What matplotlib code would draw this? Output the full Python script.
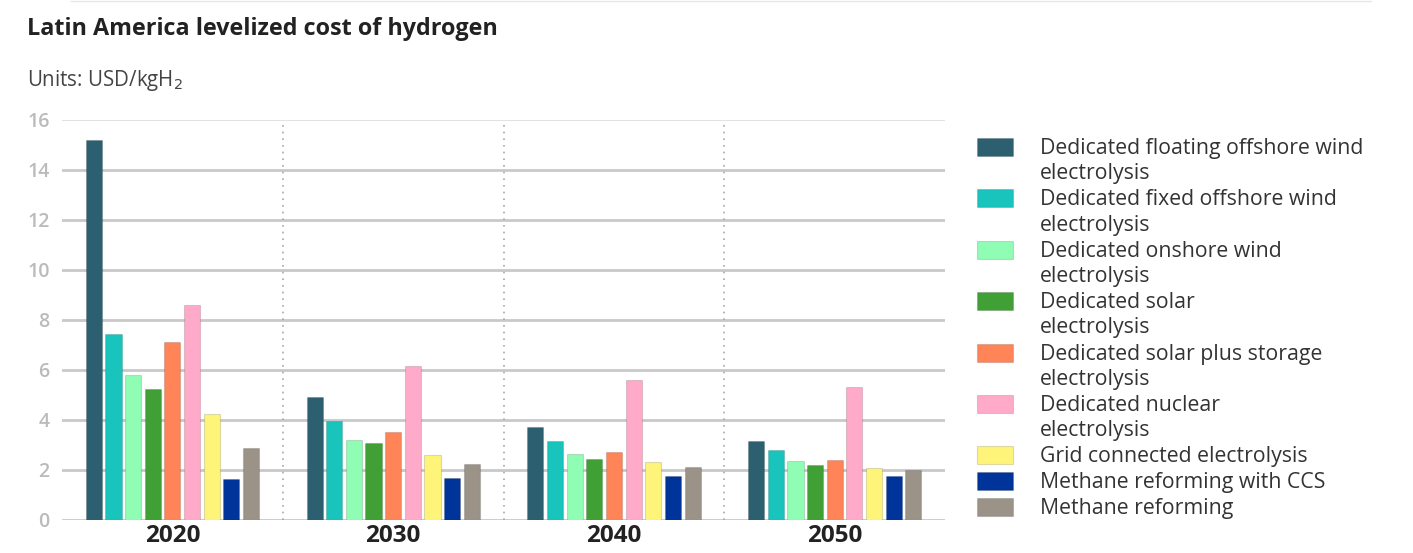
import numpy as np
import matplotlib
matplotlib.use("Agg")
import matplotlib.pyplot as plt
from matplotlib.patches import Rectangle

plt.rcParams['font.family'] = ['Open Sans', 'DejaVu Sans']

# data (USD/kgH2)
years = ["2020", "2030", "2040", "2050"]
technologies = [
    "Dedicated floating offshore wind\nelectrolysis",
    "Dedicated fixed offshore wind\nelectrolysis",
    "Dedicated onshore wind\nelectrolysis",
    "Dedicated solar\nelectrolysis",
    "Dedicated solar plus storage\nelectrolysis",
    "Dedicated nuclear\nelectrolysis",
    "Grid connected electrolysis",
    "Methane reforming with CCS",
    "Methane reforming",
]
floating_offshore = [15.2, 4.9, 3.7, 3.15]
fixed_offshore = [7.45, 3.95, 3.15, 2.8]
onshore_wind = [5.8, 3.2, 2.62, 2.35]
solar = [5.25, 3.07, 2.42, 2.18]
solar_storage = [7.1, 3.5, 2.72, 2.4]
nuclear = [8.6, 6.15, 5.6, 5.3]
grid = [4.22, 2.6, 2.3, 2.07]
methane_ccs = [1.63, 1.67, 1.76, 1.76]
methane = [2.86, 2.22, 2.1, 1.98]
series = [floating_offshore, fixed_offshore, onshore_wind, solar, solar_storage,
          nuclear, grid, methane_ccs, methane]
colors = ["#2C6070", "#18C4BC", "#90FDB4", "#40A035", "#FF8558",
          "#FFAAC8", "#FFF47A", "#00349A", "#9C9388"]

fig = plt.figure(figsize=(14.13, 5.53), dpi=100)
ax = fig.add_axes([0.0439, 0.0597, 0.625, 0.7235])

x = np.arange(len(years))
n = len(series)
pitch = 0.089
width = 0.073
for i, (vals, c) in enumerate(zip(series, colors)):
    offs = (i - (n - 1) / 2) * pitch
    ax.bar(x + offs, vals, width=width, color=c, edgecolor="#00000022",
           linewidth=0.8, zorder=3)

ax.set_xlim(-0.5, len(years) - 0.5)
ax.set_ylim(0, 16)
ax.set_yticks(range(0, 17, 2))
ax.yaxis.grid(True, color="#c9c9c9", linewidth=2)
ax.get_ygridlines()[-1].set_color("#e2e2e2")
ax.get_ygridlines()[-1].set_linewidth(1.5)
ax.set_axisbelow(True)
for b in x[:-1] + 0.5:
    ax.axvline(b, color="#a8a8a8", linestyle=(0, (1, 3)), linewidth=1.2, zorder=1)

for s in ax.spines.values():
    s.set_visible(False)
ax.set_xticks(x)
ax.set_xticklabels(years, fontsize=17.5, fontweight="bold", color="#222222")
ax.tick_params(axis="x", length=0, pad=3)
ax.tick_params(axis="y", length=0, pad=9, labelsize=14, labelcolor="#bbbbbb")
for t in ax.get_yticklabels():
    t.set_fontweight("semibold")

fig.text(0.019, 0.948, "Latin America levelized cost of hydrogen", fontsize=16.8,
         fontweight="bold", color="#222222", va="center")
fig.text(0.019, 0.855, "Units: USD/kgH$_2$", fontsize=14.8, color="#444444", va="center")
fig.add_artist(plt.Line2D([0.05, 0.97], [0.998, 0.998], color="#e6e6e6", linewidth=1))

# legend, handle aligned with first text line
line_h = 25.7
y = 147
for lab, c in zip(technologies, colors):
    yf = 1 - y / 553
    fig.add_artist(Rectangle((977 / 1413, yf - 9 / 553), 36 / 1413, 18 / 553,
                             transform=fig.transFigure, facecolor=c,
                             edgecolor="#00000022", linewidth=0.8))
    fig.text(1040 / 1413, yf + 9 / 553, lab, fontsize=15.3, color="#333333",
             va="top", ha="left", linespacing=1.26)
    y += line_h * (lab.count("\n") + 1)

fig.savefig("out.png", dpi=100)
